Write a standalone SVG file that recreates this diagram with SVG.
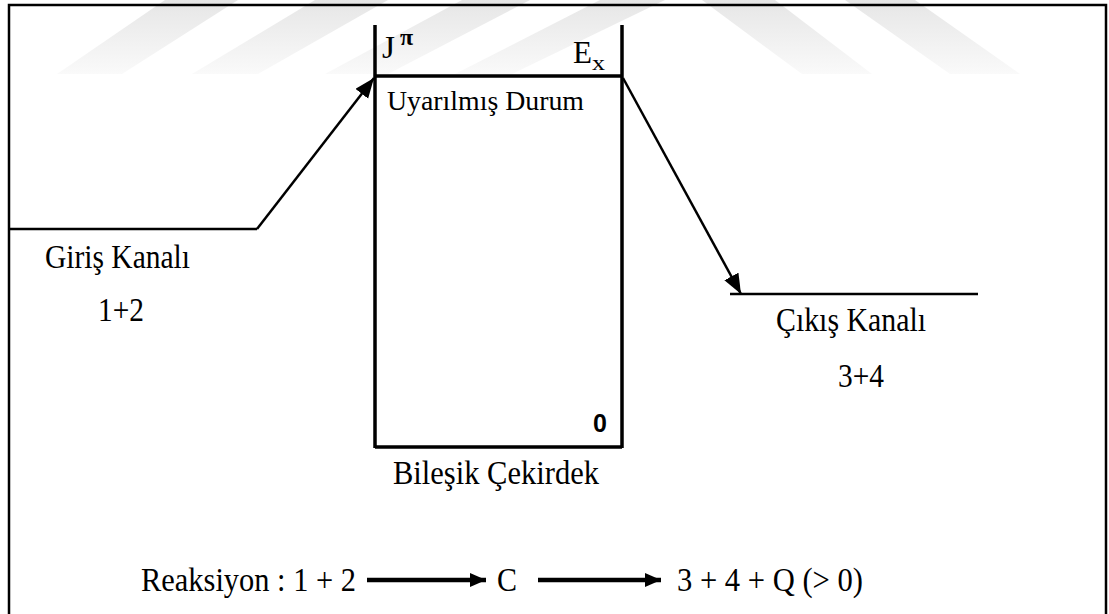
<svg xmlns="http://www.w3.org/2000/svg" width="1109" height="614" viewBox="0 0 1109 614">
<style>
.t{font-family:"Liberation Serif","Times New Roman",serif;fill:#000}
.s{font-family:"Liberation Sans",Arial,sans-serif;font-weight:bold;fill:#000}
.ln{stroke:#000;fill:none}
</style>
<defs>
<linearGradient id="wm" gradientUnits="userSpaceOnUse" x1="0" y1="0" x2="0" y2="75">
<stop offset="0" stop-color="#e6e6e6"/>
<stop offset="1" stop-color="#fafafa"/>
</linearGradient>
<marker id="ah" markerUnits="userSpaceOnUse" markerWidth="22" markerHeight="18" refX="20" refY="8" orient="auto">
<path d="M0,0 L20,8 L0,16 Z" fill="#000"/>
</marker>
<marker id="ah2" markerUnits="userSpaceOnUse" markerWidth="20" markerHeight="16" refX="16" refY="7" orient="auto">
<path d="M0,0 L16,7 L0,14 Z" fill="#000"/>
</marker>
</defs>
<rect width="1109" height="614" fill="#fff"/>
<g id="watermark" fill="url(#wm)">
<polygon points="165,0 238,0 122,74 57,74"/>
<polygon points="315,0 388,0 258,74 192,74"/>
<polygon points="462,0 530,0 388,74 325,74"/>
<polygon points="600,0 665,0 512,74 455,74"/>
<polygon points="702,0 775,0 872,74 802,74"/>
<polygon points="845,0 915,0 1020,74 950,74"/>
</g>
<g id="frame">
<path class="ln" stroke-width="2.5" d="M9,614 V5 H1106 V614"/>
</g>
<g id="compound-nucleus">
<path class="ln" stroke-width="3.5" d="M375,25 V448 M622,25 V448 M375,76 H622 M375,447 H622"/>
<text class="t" x="382" y="58" font-size="31" textLength="13" lengthAdjust="spacingAndGlyphs">J</text>
<text class="t" x="400" y="45" font-size="24" font-weight="bold">π</text>
<text class="t" x="573" y="63" font-size="31" textLength="19" lengthAdjust="spacingAndGlyphs">E</text>
<text class="t" x="592" y="70" font-size="22" textLength="13" lengthAdjust="spacingAndGlyphs">x</text>
<text class="t" x="387" y="110" font-size="28" textLength="197" lengthAdjust="spacingAndGlyphs">Uyarılmış  Durum</text>
<text class="s" x="600" y="432" font-size="25" text-anchor="middle">0</text>
<text class="t" x="393" y="484" font-size="33" textLength="206" lengthAdjust="spacingAndGlyphs">Bileşik  Çekirdek</text>
</g>
<g id="entrance-channel">
<text class="t" x="45" y="268" font-size="33" textLength="145" lengthAdjust="spacingAndGlyphs">Giriş Kanalı</text>
<text class="t" x="98" y="321" font-size="33" textLength="46" lengthAdjust="spacingAndGlyphs">1+2</text>
</g>
<g id="exit-channel">
<text class="t" x="776" y="331" font-size="33" textLength="150" lengthAdjust="spacingAndGlyphs">Çıkış Kanalı</text>
<text class="t" x="838" y="387" font-size="33" textLength="46" lengthAdjust="spacingAndGlyphs">3+4</text>
</g>
<g id="connectors">
<path class="ln" stroke-width="2.5" d="M9,229 H257"/>
<line class="ln" stroke-width="2.5" x1="257" y1="229" x2="374" y2="78" marker-end="url(#ah)"/>
<line class="ln" stroke-width="2.5" x1="623" y1="78" x2="741" y2="294" marker-end="url(#ah)"/>
<path class="ln" stroke-width="2.5" d="M730,294 H978"/>
</g>
<g id="reaction">
<text class="t" x="141" y="591" font-size="33" textLength="215" lengthAdjust="spacingAndGlyphs">Reaksiyon : 1 + 2</text>
<line class="ln" stroke-width="4.5" x1="367" y1="580" x2="486" y2="580" marker-end="url(#ah2)"/>
<text class="t" x="497" y="591" font-size="33" textLength="20" lengthAdjust="spacingAndGlyphs">C</text>
<line class="ln" stroke-width="4.5" x1="538" y1="580" x2="661" y2="580" marker-end="url(#ah2)"/>
<text class="t" x="677" y="591" font-size="33" textLength="186" lengthAdjust="spacingAndGlyphs">3 + 4 + Q (&gt; 0)</text>
</g>
</svg>
